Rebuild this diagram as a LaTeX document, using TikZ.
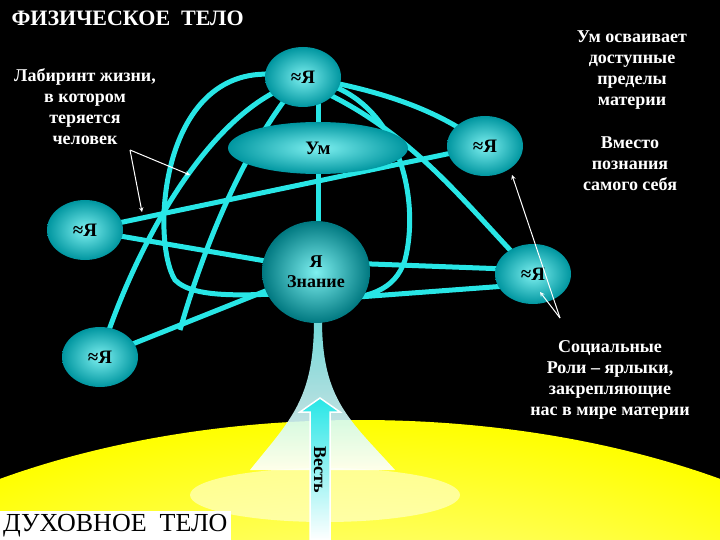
\documentclass[tikz,border=0pt]{standalone}
\usepackage{fontspec}
\setmainfont{Liberation Serif}
\usetikzlibrary{shapes.geometric}
\definecolor{cy}{RGB}{40,230,230}
\definecolor{dcy}{RGB}{0,150,160}
\tikzset{
 ya/.style={ellipse,inner sep=0pt,minimum width=76pt,minimum height=60pt,inner color=cy!60!white,outer color=dcy,font=\bfseries\fontsize{19}{19}\selectfont,text=black},
 lk/.style={cy,line width=5pt},
 wt/.style={white,font=\bfseries\fontsize{18}{21}\selectfont,align=center},
 pt/.style={white,line width=1pt,-stealth}
}
\begin{document}
\begin{tikzpicture}[x=1pt,y=-1pt]
\fill[black] (0,0) rectangle (720,540);
\useasboundingbox (0,0) rectangle (720,540);
\begin{scope}
\clip (0,0) rectangle (720,540);
\shade[inner color=white,middle color=yellow!60!white,outer color=yellow] (360,760) ellipse (640 and 340);
\fill[white,opacity=0.5] (325,495) ellipse (135 and 27);
\shade[top color=cy!60!white,bottom color=white,opacity=0.9] (314,320) .. controls (314,400) and (290,420) .. (250,470) -- (395,470) .. controls (350,420) and (322,400) .. (322,320) -- cycle;
\end{scope}
% links
\draw[lk] (303,77) .. controls (380,90) and (440,110) .. (485,146);
\draw[lk] (330,95) .. controls (420,140) and (470,210) .. (533,274);
\draw[lk] (85,230) -- (485,146);
\draw[lk] (318,77) -- (318,270);
\draw[lk] (85,230) -- (318,270);
\draw[lk] (100,357) -- (318,270);
\draw[lk] (318,262) -- (533,270);
\draw[lk] (318,300) -- (533,284);
\draw[lk] (290,85) .. controls (200,120) and (130,260) .. (100,357);
\draw[lk] (280,75) .. controls (160,60) and (150,240) .. (175,280) .. controls (195,300) and (250,295) .. (318,292);
\draw[lk] (330,85) .. controls (400,110) and (420,200) .. (405,260) .. controls (395,290) and (370,300) .. (318,300);
\draw[lk] (303,77) .. controls (240,150) and (200,260) .. (180,330);
% nodes
\node[ya] (t) at (303,77) {≈Я};
\node[ellipse,minimum width=180pt,minimum height=52pt,inner color=cy!60!white,outer color=dcy,text=black,font=\bfseries\fontsize{19}{19}\selectfont] (um) at (318,148) {Ум};
\node[ya] (r1) at (485,146) {≈Я};
\node[ya] (l1) at (85,230) {≈Я};
\node[ya] (r2) at (533,274) {≈Я};
\node[ya] (l2) at (100,357) {≈Я};
\node[ellipse,minimum width=108pt,minimum height=102pt,inner color=cy!60!white,outer color=dcy!80!black,text=black,align=center,font=\bfseries\fontsize{18}{20}\selectfont] (zn) at (316,272) {Я\\Знание};
% arrow
\shade[top color=cy,bottom color=white,draw=white,line width=1.5pt] (310,540) -- (310,412) -- (300,412) -- (320,398) -- (340,412) -- (330,412) -- (330,540) -- cycle;
\node[rotate=-90,font=\bfseries\fontsize{18}{18}\selectfont] (v) at (320,470) {Весть};
% texts
\node[wt,font=\bfseries\fontsize{22}{22}\selectfont,anchor=west] (ft) at (8,18) {ФИЗИЧЕСКОЕ\ \ ТЕЛО};
\node[wt] (lab) at (85,107) {Лабиринт жизни,\\в котором\\теряется\\человек};
\node[wt] (um2) at (632,70) {Ум осваивает\\доступные\\пределы\\материи};
\node[wt] (vm) at (630,164) {Вместо\\познания\\самого себя};
\node[wt] (soc) at (610,380) {Социальные\\Роли – ярлыки,\\закрепляющие\\нас в мире материи};
\node[fill=white,font=\fontsize{26}{26}\selectfont,anchor=south west,inner sep=3pt] (dt) at (0,540) {ДУХОВНОЕ\ \ ТЕЛО};
\coordinate (c1) at (130,150);
\coordinate (c2) at (560,318);
\draw[pt] (c1) -- (190,175);
\draw[pt] (c1) -- (142,212);
\draw[pt] (c2) -- (512,175);
\draw[pt] (c2) -- (540,292);
\end{tikzpicture}
\end{document}
